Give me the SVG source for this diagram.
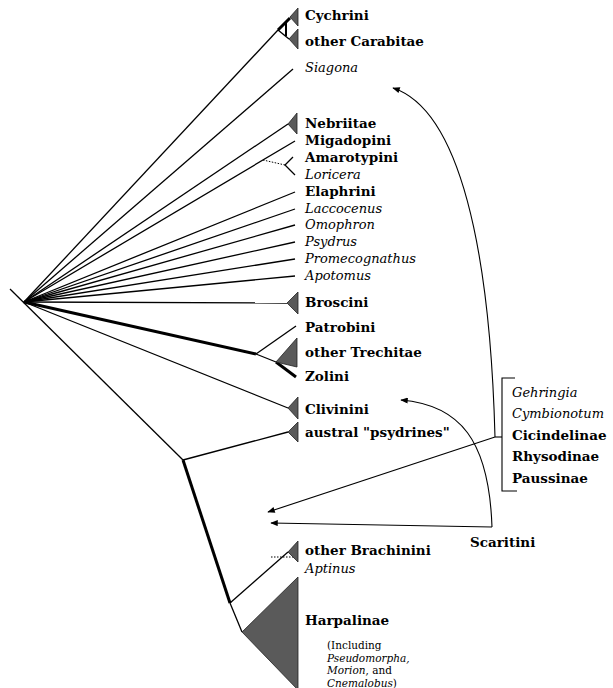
<svg xmlns="http://www.w3.org/2000/svg" width="613" height="688" viewBox="0 0 613 688">
<defs>
<marker id="ah" viewBox="0 0 10 8" refX="9" refY="4" markerWidth="8" markerHeight="6" orient="auto" markerUnits="userSpaceOnUse">
<path d="M0,0 L10,4 L0,8 z" fill="#000"/>
</marker>
</defs>
<style>
.b{font-family:"DejaVu Serif","Liberation Serif",serif;font-weight:bold;font-size:13.5px;fill:#000}
.i{font-family:"DejaVu Serif","Liberation Serif",serif;font-style:italic;font-size:13px;fill:#000}
.s{font-family:"DejaVu Serif","Liberation Serif",serif;font-size:10.5px;fill:#000}
.si{font-family:"DejaVu Serif","Liberation Serif",serif;font-style:italic;font-size:10.5px;fill:#000}
.ln{stroke:#000;stroke-width:1.3;fill:none}
.tk{stroke:#000;stroke-width:3;fill:none}
.dt{stroke:#000;stroke-width:1;stroke-dasharray:1.5,1.5;fill:none}
.ar{stroke:#000;stroke-width:1.1;fill:none}
.tri{fill:#5a5a5a;stroke:#222;stroke-width:0.8}
</style>
<g id="connectors">
<line class="ln" x1="10" y1="289" x2="183" y2="460"/>
<line class="ln" x1="24" y1="302" x2="278" y2="30"/>
<line class="ln" x1="24" y1="302" x2="293" y2="69"/>
<line class="ln" x1="24" y1="302" x2="288" y2="124"/>
<line class="ln" x1="24" y1="302" x2="295" y2="141"/>
<line class="ln" x1="24" y1="302" x2="295" y2="192"/>
<line class="ln" x1="24" y1="302" x2="295" y2="209"/>
<line class="ln" x1="24" y1="302" x2="295" y2="225"/>
<line class="ln" x1="24" y1="302" x2="295" y2="242"/>
<line class="ln" x1="24" y1="302" x2="295" y2="259"/>
<line class="ln" x1="24" y1="302" x2="295" y2="276"/>
<line class="ln" x1="24" y1="302" x2="287" y2="303"/>
<line class="tk" x1="24" y1="302" x2="256" y2="354"/>
<line class="ln" x1="24" y1="302" x2="288" y2="408"/>
<path class="tk" d="M278,30 L290,18"/>
<path class="ln" d="M278,30 L289,39"/>
<path class="tk" d="M286,22 L286,36" style="stroke-width:2"/>
<path class="dt" d="M263,160 L285,165"/>
<path class="ln" d="M293,157 L285,165 L295,175"/>
<path class="ln" d="M256,354 L296,326"/>
<path class="ln" d="M256,354 L276,362"/>
<path class="tk" d="M276,362 L296,377"/>
<path class="ln" d="M183,460 L288,432"/>
<path class="tk" d="M183,460 L230,603"/>
<path class="ln" d="M230,603 L288,552"/>
<path class="ln" d="M230,603 L242,632"/>
<path class="dt" d="M271,557 L296,557"/>
<path class="ar" d="M495,437 C490,250 460,110 393,88" marker-end="url(#ah)"/>
<path class="ar" d="M495,437 L502,437"/>
<path class="ar" d="M495,437 L268,512" marker-end="url(#ah)"/>
<path class="ar" d="M492,527 C489,440 460,405 401,400" marker-end="url(#ah)"/>
<path class="ar" d="M492,527 L271,523" marker-end="url(#ah)"/>
<path class="ar" d="M515,378 L502,378 L502,491 L517,491"/>
</g>
<g id="cychrini"><polygon class="tri" points="298,8 290,17 298,26"/><text class="b" x="305" y="20">Cychrini</text></g>
<g id="other-carabitae"><polygon class="tri" points="298,29 289,39 298,49"/><text class="b" x="305" y="46">other Carabitae</text></g>
<g id="siagona"><text class="i" x="305" y="72">Siagona</text></g>
<g id="nebriitae"><polygon class="tri" points="297,113 288,124 297,134"/><text class="b" x="305" y="128">Nebriitae</text></g>
<g id="migadopini"><text class="b" x="305" y="145">Migadopini</text></g>
<g id="amarotypini"><text class="b" x="305" y="162">Amarotypini</text></g>
<g id="loricera"><text class="i" x="305" y="179">Loricera</text></g>
<g id="elaphrini"><text class="b" x="305" y="196">Elaphrini</text></g>
<g id="laccocenus"><text class="i" x="305" y="213">Laccocenus</text></g>
<g id="omophron"><text class="i" x="305" y="229">Omophron</text></g>
<g id="psydrus"><text class="i" x="305" y="246">Psydrus</text></g>
<g id="promecognathus"><text class="i" x="305" y="263">Promecognathus</text></g>
<g id="apotomus"><text class="i" x="305" y="280">Apotomus</text></g>
<g id="broscini"><polygon class="tri" points="298,292 287,303 298,314"/><text class="b" x="305" y="307">Broscini</text></g>
<g id="patrobini"><text class="b" x="305" y="332">Patrobini</text></g>
<g id="other-trechitae"><polygon class="tri" points="297,338 276,362 297,367"/><text class="b" x="305" y="357">other Trechitae</text></g>
<g id="zolini"><text class="b" x="305" y="381">Zolini</text></g>
<g id="clivinini"><polygon class="tri" points="298,397 288,408 298,419"/><text class="b" x="305" y="414">Clivinini</text></g>
<g id="austral-psydrines"><polygon class="tri" points="298,422 288,432 298,442"/><text class="b" x="305" y="437">austral "psydrines"</text></g>
<g id="outgroups">
<text class="i" x="512" y="397">Gehringia</text>
<text class="i" x="512" y="418">Cymbionotum</text>
<text class="b" x="512" y="440">Cicindelinae</text>
<text class="b" x="512" y="461">Rhysodinae</text>
<text class="b" x="512" y="483">Paussinae</text>
</g>
<g id="scaritini"><text class="b" x="470" y="547">Scaritini</text></g>
<g id="other-brachinini"><polygon class="tri" points="298,541 288,552 298,562"/><text class="b" x="305" y="555">other Brachinini</text></g>
<g id="aptinus"><text class="i" x="305" y="573">Aptinus</text></g>
<g id="harpalinae"><polygon class="tri" points="298,577 242,632 298,690"/><text class="b" x="305" y="625">Harpalinae</text>
<text class="s" x="327" y="649">(Including</text>
<text class="si" x="327" y="661.5">Pseudomorpha,</text>
<text x="327" y="674"><tspan class="si">Morion</tspan><tspan class="s">, and</tspan></text>
<text x="327" y="686.5"><tspan class="si">Cnemalobus</tspan><tspan class="s">)</tspan></text>
</g>
</svg>
